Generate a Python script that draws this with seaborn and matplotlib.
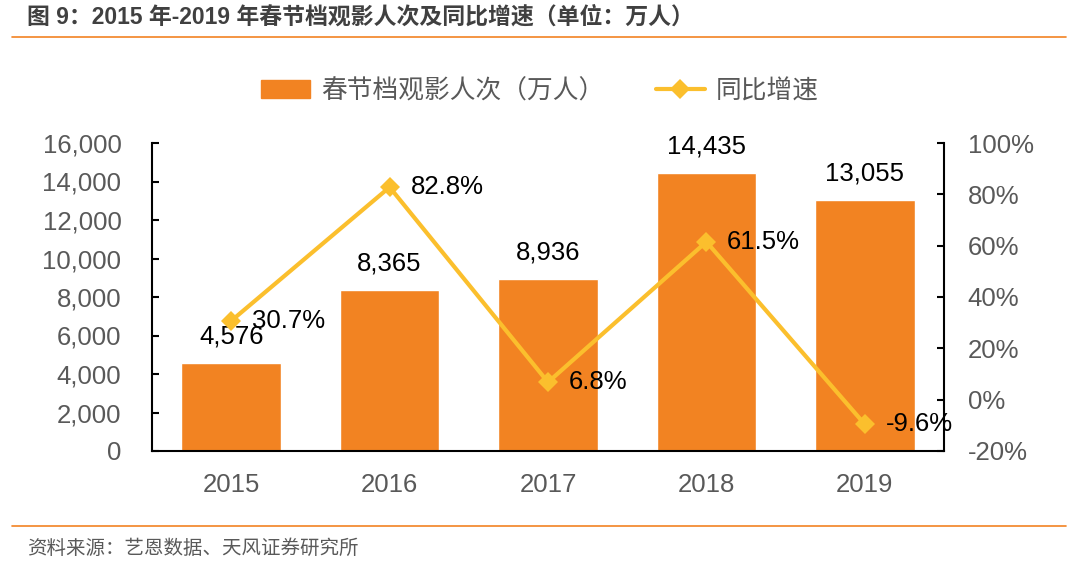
import matplotlib
matplotlib.use("Agg")
import matplotlib.pyplot as plt
import seaborn as sns
from matplotlib.lines import Line2D
from matplotlib.patches import Patch

years = ["2015", "2016", "2017", "2018", "2019"]
viewers = [4576, 8365, 8936, 14435, 13055]
growth = [30.7, 82.8, 6.8, 61.5, -9.6]

bar_color = "#F28322"
line_color = "#FBBF2D"
grey = "#595959"

sns.set_theme(style="white")
plt.rcParams["font.family"] = ["Liberation Sans", "Noto Sans CJK SC", "DejaVu Sans"]

fig = plt.figure(figsize=(10.8, 5.8), dpi=100)
ax = fig.add_axes([152 / 1080, 1 - 451 / 580, (944 - 152) / 1080, (451 - 143) / 580])

sns.barplot(x=years, y=viewers, color=bar_color, saturation=1, width=0.63, ax=ax)
ax.set_ylim(0, 16000)
ax.set_xlim(-0.5, 4.5)
ax.set_yticks(range(0, 16001, 2000))
ax.set_yticklabels([f"{v:,}" for v in range(0, 16001, 2000)])

ax2 = ax.twinx()
sns.lineplot(x=list(range(5)), y=growth, color=line_color, linewidth=3,
             marker="D", markersize=10, markeredgewidth=0, ax=ax2)
ax2.set_ylim(-20, 100)
ax2.set_yticks(range(-20, 101, 20))
ax2.set_yticklabels([f"{v}%" for v in range(-20, 101, 20)])

fs = 18.5
for a in (ax, ax2):
    for s in a.spines.values():
        s.set_visible(False)
    a.tick_params(axis="both", labelsize=fs, colors=grey, length=5, width=1.5,
                  direction="in")
    a.set_xlabel("")
    a.set_ylabel("")
ax.spines["left"].set_visible(True)
ax.spines["bottom"].set_visible(True)
ax2.spines["right"].set_visible(True)
for s in (ax.spines["left"], ax.spines["bottom"], ax2.spines["right"]):
    s.set_color("black")
    s.set_linewidth(1.5)
ax.tick_params(axis="y", left=True, color="black", pad=22)
ax2.tick_params(axis="y", right=True, color="black", pad=17)
ax.tick_params(axis="x", bottom=False, pad=16)

for i, v in enumerate(viewers):
    ax.annotate(f"{v:,}", (i, v), xytext=(0, 19), textcoords="offset points",
                ha="center", va="center", fontsize=fs, color="black")
for i, g in enumerate(growth):
    ax2.annotate(f"{g}%", (i, g), xytext=(15, 0), textcoords="offset points",
                 ha="left", va="center", fontsize=fs, color="black")

handles = [Patch(color=bar_color),
           Line2D([0], [0], color=line_color, linewidth=3, marker="D",
                  markersize=10, markeredgewidth=0)]
fig.legend(handles, ["春节档观影人次（万人）", "同比增速"], loc="center",
           bbox_to_anchor=(0.5, 1 - 91 / 580), ncol=2, frameon=False,
           fontsize=fs, labelcolor=grey, handlelength=1.9, handleheight=0.7,
           columnspacing=2.0, handletextpad=0.45)

fig.text(27 / 1080, 1 - 17 / 580, "图 9：2015 年-2019 年春节档观影人次及同比增速（单位：万人）",
         fontsize=16.5, fontweight="bold", color="#404040", va="center", ha="left")
fig.add_artist(Line2D([12 / 1080, 1066 / 1080], [1 - 37 / 580, 1 - 37 / 580],
                      color="#F28322", linewidth=1.2))
fig.add_artist(Line2D([12 / 1080, 1066 / 1080], [1 - 526 / 580, 1 - 526 / 580],
                      color="#F28322", linewidth=1.2))
fig.text(27 / 1080, 1 - 549 / 580, "资料来源：艺恩数据、天风证券研究所",
         fontsize=14, color=grey, va="center", ha="left")

fig.savefig("out.png", dpi=100)
